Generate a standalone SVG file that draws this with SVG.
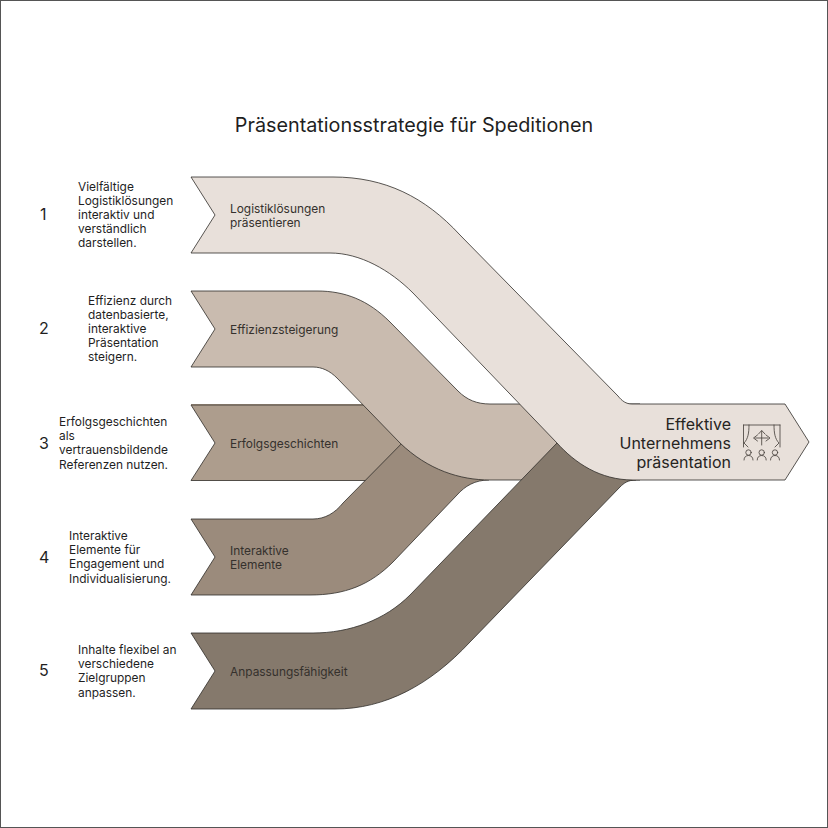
<svg xmlns="http://www.w3.org/2000/svg" width="828" height="828" viewBox="0 0 828 828">
<style>
text{font-family:Inter,"Liberation Sans",sans-serif;fill:#1f1f1f}
.t{font-size:19.8px}
.n{font-size:16px}
.d{font-size:11.9px}
.l{font-size:11.9px;fill:#35312d}
.e{font-size:16px;text-anchor:end;fill:#26241f}
.s{stroke:#2f2c28;stroke-width:.8;stroke-linejoin:round}
.i{fill:none;stroke:#4a4540;stroke-width:.85;stroke-linecap:round;stroke-linejoin:round}
</style>
<rect x="0.5" y="0.5" width="827" height="827" fill="#fff" stroke="#555" stroke-width="1"/>
<text class="t" x="414" y="132" text-anchor="middle">Präsentationsstrategie für Speditionen</text>
<g id="connectors">
<path id="band3" class="s" fill="#ad9d8d" d="M191 405H420V480.500H191L215 443Z"/>
<path d="M191 404.600H370" fill="none" stroke="#7f7366" stroke-width="1.400"/>
<path id="band4" class="s" fill="#9b8b7c" d="M191 519H313C325 519 335 513 343 503L415 430L480 440L489 480C475 480 465 486 457 495L393 562C370 585 345 595 310 595H191L215 557Z"/>
<path id="band2" class="s" fill="#c9bbaf" d="M191 291H317C345 291 368 300 390 322L458 391C467 400 477 404 490 404H640V480H490C460 480 428 470 400 443L337 378C330 371 322 367 313 367H191L215 329Z"/>
<path id="band5" class="s" fill="#85796c" d="M191 633H313C350 633 385 620 410 595L557 443L640 440L636 480C628 480 624 483 620 487L470 642C430 685 385 709 335 709H191L215 671Z"/>
</g>
<g id="node-1"><path class="s" fill="#e8e0da" d="M191 177H333C385 177 425 197 460 235L618 396C622 401 626 404 632 404H785L809 442L785 480H633C600 480 575 463 557 443L413 293C390 270 360 253 330 253H191L215 215Z"/>
<text class="l" x="230" y="212.500">Logistiklösungen</text><text class="l" x="230" y="226.500">präsentieren</text>
<text class="n" x="40" y="220">1</text>
<text class="d"><tspan x="78" y="191">Vielfältige</tspan><tspan x="78" y="205">Logistiklösungen</tspan><tspan x="78" y="219">interaktiv und</tspan><tspan x="78" y="233">verständlich</tspan><tspan x="78" y="247">darstellen.</tspan></text></g>
<g id="node-2"><text class="l" x="230" y="333.500">Effizienzsteigerung</text>
<text class="n" x="39" y="334">2</text>
<text class="d"><tspan x="88" y="305">Effizienz durch</tspan><tspan x="88" y="319">datenbasierte,</tspan><tspan x="88" y="333">interaktive</tspan><tspan x="88" y="347">Präsentation</tspan><tspan x="88" y="361">steigern.</tspan></text></g>
<g id="node-3"><text class="l" x="230" y="447.500">Erfolgsgeschichten</text>
<text class="n" x="39" y="449">3</text>
<text class="d"><tspan x="59" y="426">Erfolgsgeschichten</tspan><tspan x="59" y="440">als</tspan><tspan x="59" y="454">vertrauensbildende</tspan><tspan x="59" y="469">Referenzen nutzen.</tspan></text></g>
<g id="node-4"><text class="l" x="230" y="554.500">Interaktive</text><text class="l" x="230" y="568.500">Elemente</text>
<text class="n" x="39" y="563">4</text>
<text class="d"><tspan x="69" y="540">Interaktive</tspan><tspan x="69" y="554">Elemente für</tspan><tspan x="69" y="568">Engagement und</tspan><tspan x="69" y="583">Individualisierung.</tspan></text></g>
<g id="node-5"><text class="l" x="230" y="675.500">Anpassungsfähigkeit</text>
<text class="n" x="39" y="676">5</text>
<text class="d"><tspan x="78" y="654">Inhalte flexibel an</tspan><tspan x="78" y="668">verschiedene</tspan><tspan x="78" y="682">Zielgruppen</tspan><tspan x="78" y="697">anpassen.</tspan></text></g>
<g id="node-result">
<text class="e" x="731" y="429.500">Effektive</text><text class="e" x="731" y="448.500">Unternehmens</text><text class="e" x="731" y="468">präsentation</text>
<g class="i">
<path d="M743.500 425H780M743.500 425V447M780 425V447"/>
<path d="M749 425C749 433 748 439 744 443L748 447M774 425C774 433 775 439 779 443L775 447"/>
<path d="M761.700 431V445M758.500 434L761.700 430.500L765 434M755 438H768M757.500 435L753.500 438L757.500 441M766 435L770 438L766 441"/>
<circle cx="748.500" cy="452.500" r="2.700"/><path d="M744 460C744 457 746 455.500 748.500 455.500C751 455.500 753 457 753 460"/>
<circle cx="761.700" cy="452.500" r="2.700"/><path d="M757.200 460C757.200 457 759.200 455.500 761.700 455.500C764.200 455.500 766.200 457 766.200 460"/>
<circle cx="775" cy="452.500" r="2.700"/><path d="M770.500 460C770.500 457 772.500 455.500 775 455.500C777.500 455.500 779.500 457 779.500 460"/>
</g></g>
</svg>
